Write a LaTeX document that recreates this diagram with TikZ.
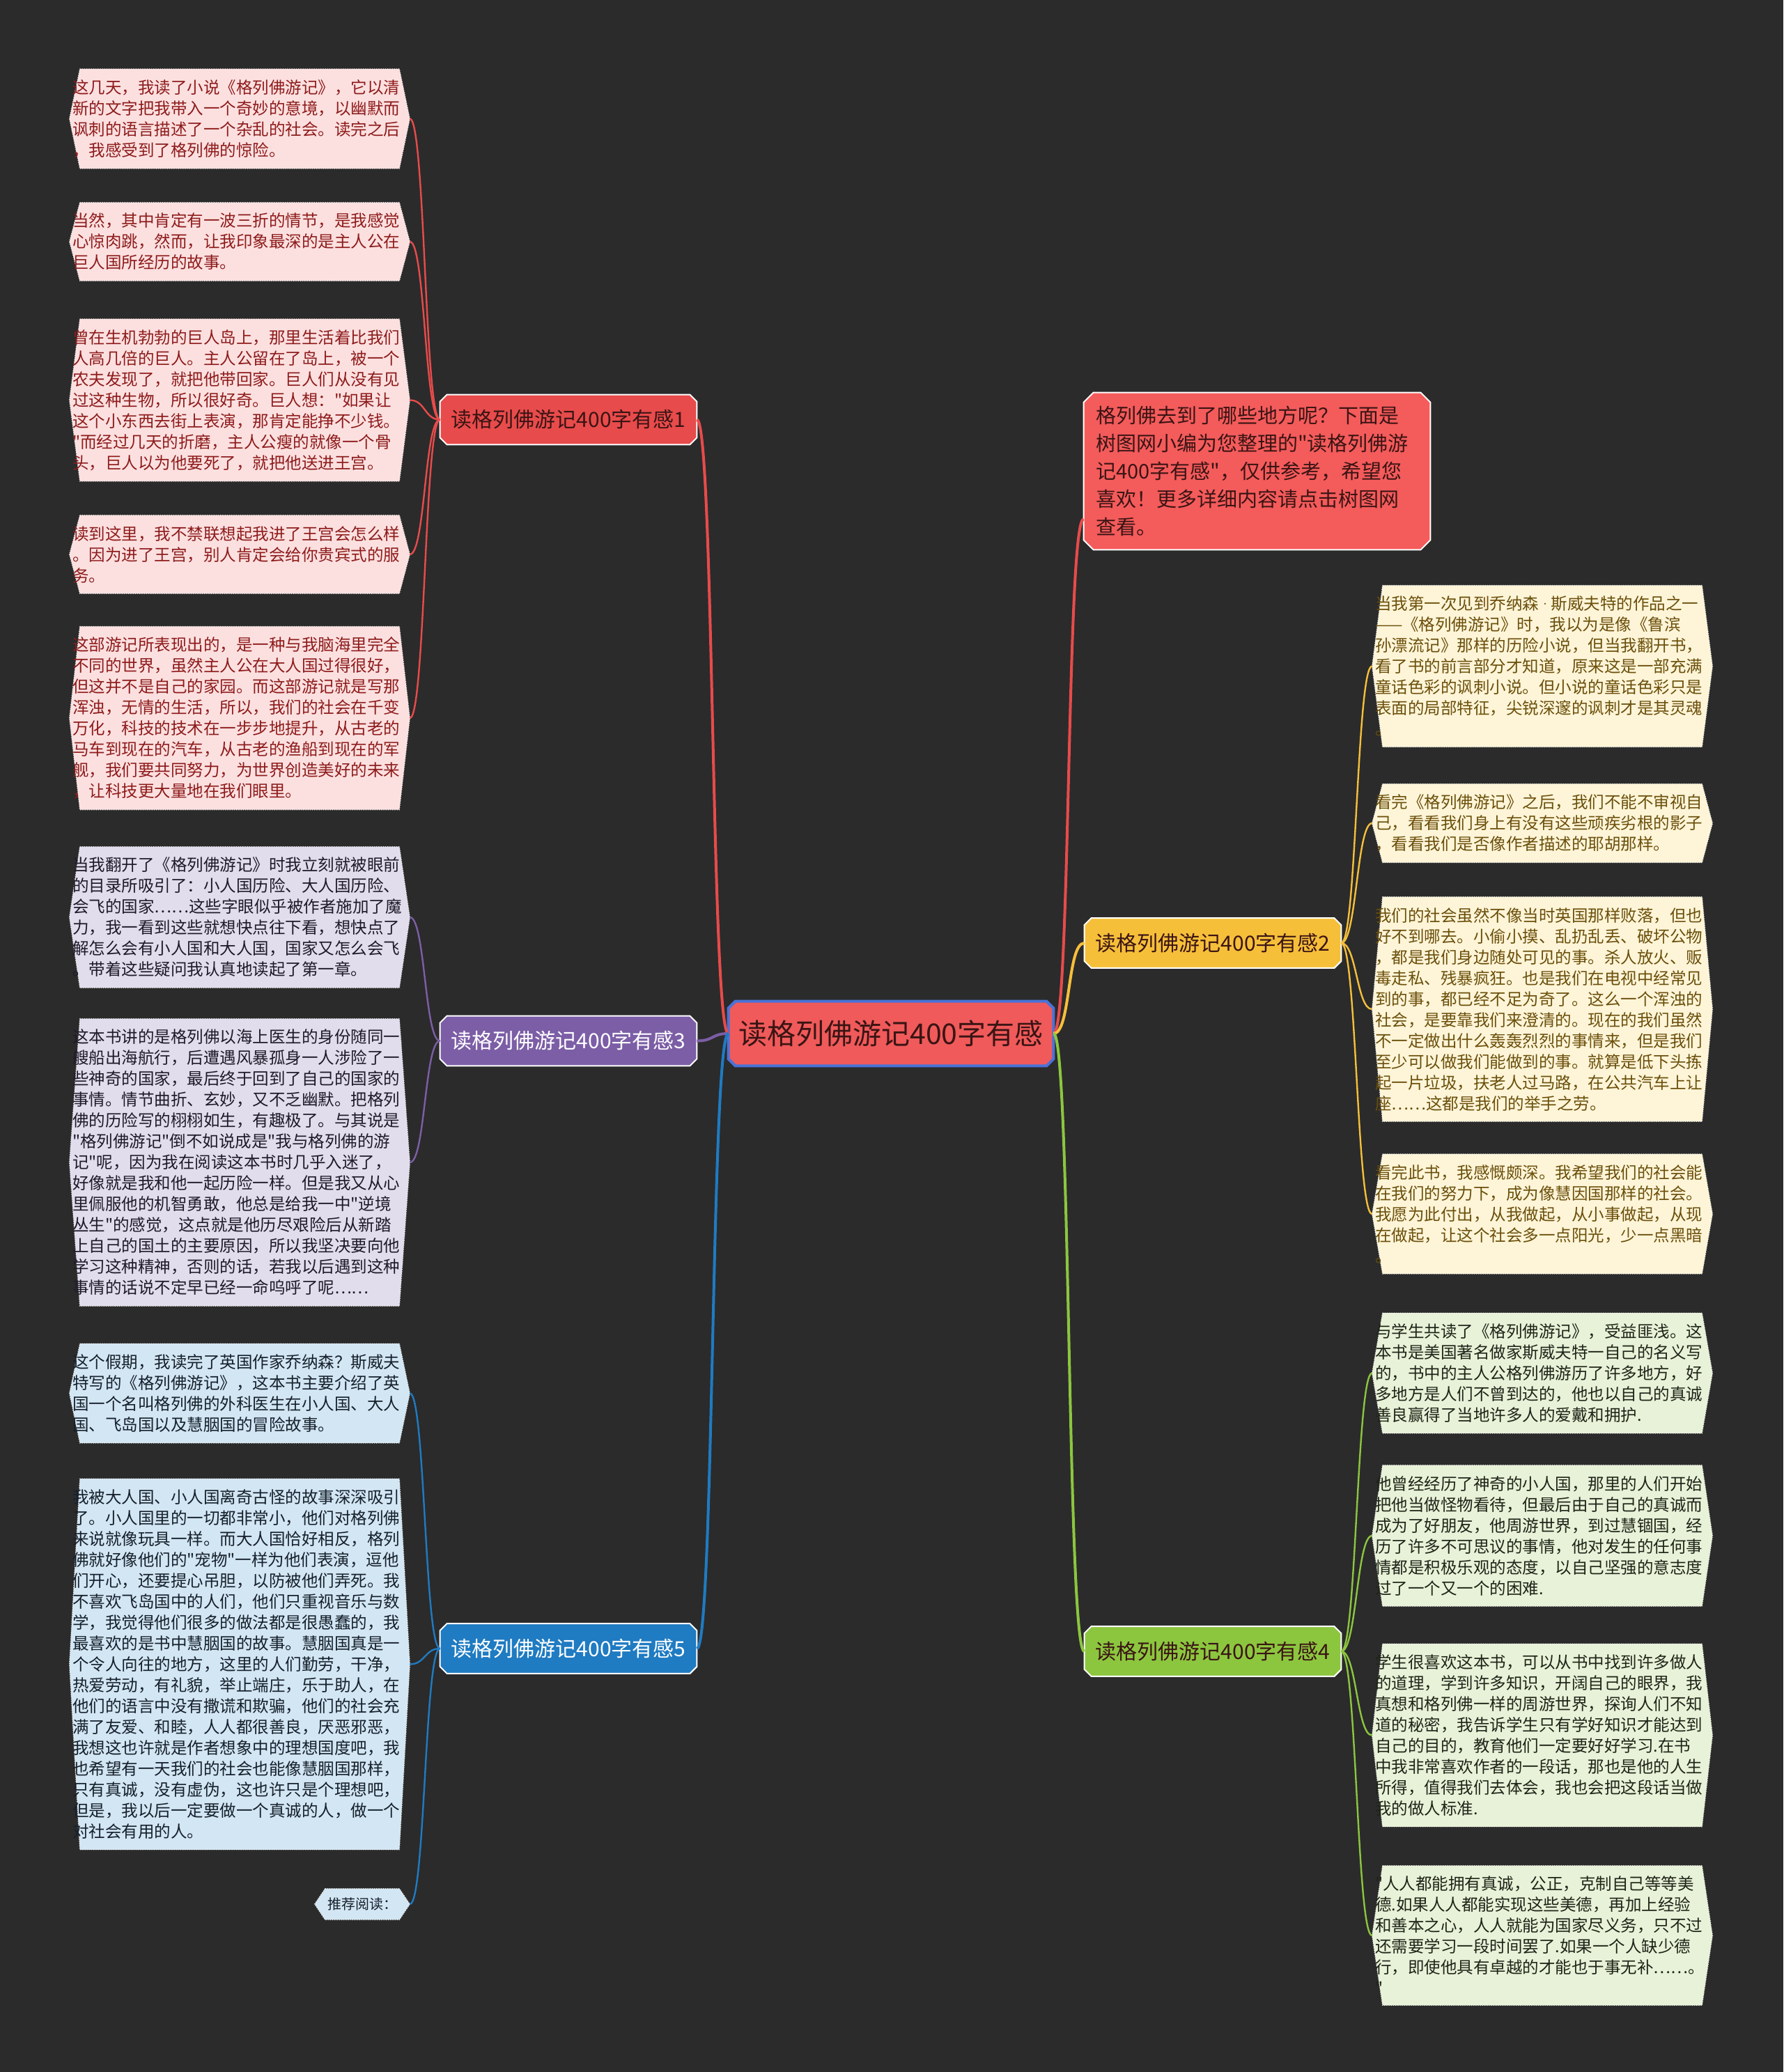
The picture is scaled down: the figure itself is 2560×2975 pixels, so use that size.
\documentclass[tikz,border=0pt]{standalone}
\usepackage{fontspec}
\newfontfamily\cjkfont{Noto Sans CJK SC}
\usetikzlibrary{backgrounds}
\definecolor{bgdark}{HTML}{2B2B2B}
\definecolor{rootred}{HTML}{F05A5A}
\definecolor{rootblue}{HTML}{4A72D8}
\definecolor{boxred}{HTML}{F45B5B}
\definecolor{mainred}{HTML}{E84B4B}
\definecolor{mainpurple}{HTML}{7C5EA6}
\definecolor{mainblue}{HTML}{1F7BC2}
\definecolor{mainyellow}{HTML}{F6BF3A}
\definecolor{maingreen}{HTML}{8CC63F}
\definecolor{darktext}{HTML}{3A1414}
\definecolor{leafred}{HTML}{FCE0E0}
\definecolor{leafpurple}{HTML}{E2DDED}
\definecolor{leafblue}{HTML}{D3E6F3}
\definecolor{leafyellow}{HTML}{FEF5D8}
\definecolor{leafgreen}{HTML}{E8F2D8}
\definecolor{redtext}{HTML}{8E1B1B}
\definecolor{purpletext}{HTML}{1E1A28}
\definecolor{bluetext}{HTML}{15202B}
\definecolor{yellowtext}{HTML}{6B4F0B}
\definecolor{greentext}{HTML}{1E2418}
\definecolor{leafborder}{HTML}{E6E6E6}
\begin{document}
\begin{tikzpicture}
[x=0.5pt, y=-0.5pt,
every node/.style={inner sep=0pt, font=\cjkfont\fontsize{11.75}{15}\selectfont},
leaf/.style={text width=240pt, align=left, inner xsep=2pt, inner ysep=7.5pt},
redleaf/.style={leaf, text=redtext},
purpleleaf/.style={leaf, text=purpletext},
blueleaf/.style={leaf, text=bluetext},
yellowleaf/.style={leaf, text=yellowtext},
greenleaf/.style={leaf, text=greentext},
branch/.style={minimum width=184pt, minimum height=35.5pt, font=\cjkfont\fontsize{15}{18}\selectfont},
leaffill/.style={draw=leafborder, densely dotted, line width=0.6pt},
redfill/.style={leaffill, fill=leafred},
purplefill/.style={leaffill, fill=leafpurple},
bluefill/.style={leaffill, fill=leafblue},
yellowfill/.style={leaffill, fill=leafyellow},
greenfill/.style={leaffill, fill=leafgreen},
rootfill/.style={fill=rootred, draw=rootblue, line width=2pt},
topfill/.style={fill=boxred, draw=white, line width=1pt},
b1fill/.style={fill=mainred, draw=white, line width=1pt},
b3fill/.style={fill=mainpurple, draw=white, line width=1pt},
b5fill/.style={fill=mainblue, draw=white, line width=1pt},
b2fill/.style={fill=mainyellow, draw=white, line width=1pt},
b4fill/.style={fill=maingreen, draw=white, line width=1pt},
rootlink/.style={line width=2pt},
leaflink/.style={line width=1.2pt}]
\useasboundingbox (0,0) rectangle (2560,2975);
\node[minimum width=233pt, minimum height=46pt, font=\cjkfont\fontsize{20.5}{24}\selectfont, text=darktext] (root) at (1279,1484) {读格列佛游记400字有感};
\node[branch, text=darktext] (b1) at (816,602.5) {读格列佛游记400字有感1};
\node[branch, text=white] (b3) at (816,1494.5) {读格列佛游记400字有感3};
\node[branch, text=white] (b5) at (816,2367) {读格列佛游记400字有感5};
\node[branch, text=darktext] (b2) at (1741,1354) {读格列佛游记400字有感2};
\node[branch, text=darktext] (b4) at (1741,2371) {读格列佛游记400字有感4};
\node[text width=231.5pt, align=left, inner xsep=8.5pt, minimum height=112.5pt, font=\cjkfont\fontsize{14.5}{20}\selectfont, text=darktext] (top) at (1804.5,676.5) {格列佛去到了哪些地方呢？下面是\\树图网小编为您整理的"读格列佛游\\记400字有感"，仅供参考，希望您\\喜欢！更多详细内容请点击树图网\\查看。};
\node[redleaf] (l1a) at (344,170.5) {这几天，我读了小说《格列佛游记》，它以清\\新的文字把我带入一个奇妙的意境，以幽默而\\讽刺的语言描述了一个杂乱的社会。读完之后\\，我感受到了格列佛的惊险。};
\node[redleaf] (l1b) at (344,347) {当然，其中肯定有一波三折的情节，是我感觉\\心惊肉跳，然而，让我印象最深的是主人公在\\巨人国所经历的故事。};
\node[redleaf] (l1c) at (344,574.5) {曾在生机勃勃的巨人岛上，那里生活着比我们\\人高几倍的巨人。主人公留在了岛上，被一个\\农夫发现了，就把他带回家。巨人们从没有见\\过这种生物，所以很好奇。巨人想："如果让\\这个小东西去街上表演，那肯定能挣不少钱。\\"而经过几天的折磨，主人公瘦的就像一个骨\\头，巨人以为他要死了，就把他送进王宫。};
\node[redleaf] (l1d) at (344,796) {读到这里，我不禁联想起我进了王宫会怎么样\\。因为进了王宫，别人肯定会给你贵宾式的服\\务。};
\node[redleaf] (l1e) at (344,1031) {这部游记所表现出的，是一种与我脑海里完全\\不同的世界，虽然主人公在大人国过得很好，\\但这并不是自己的家园。而这部游记就是写那\\浑浊，无情的生活，所以，我们的社会在千变\\万化，科技的技术在一步步地提升，从古老的\\马车到现在的汽车，从古老的渔船到现在的军\\舰，我们要共同努力，为世界创造美好的未来\\，让科技更大量地在我们眼里。};
\node[purpleleaf] (l3a) at (344,1317) {当我翻开了《格列佛游记》时我立刻就被眼前\\的目录所吸引了：小人国历险、大人国历险、\\会飞的国家……这些字眼似乎被作者施加了魔\\力，我一看到这些就想快点往下看，想快点了\\解怎么会有小人国和大人国，国家又怎么会飞\\。带着这些疑问我认真地读起了第一章。};
\node[purpleleaf] (l3b) at (344,1669) {这本书讲的是格列佛以海上医生的身份随同一\\艘船出海航行，后遭遇风暴孤身一人涉险了一\\些神奇的国家，最后终于回到了自己的国家的\\事情。情节曲折、玄妙，又不乏幽默。把格列\\佛的历险写的栩栩如生，有趣极了。与其说是\\"格列佛游记"倒不如说成是"我与格列佛的游\\记"呢，因为我在阅读这本书时几乎入迷了，\\好像就是我和他一起历险一样。但是我又从心\\里佩服他的机智勇敢，他总是给我一中"逆境\\丛生"的感觉，这点就是他历尽艰险后从新踏\\上自己的国土的主要原因，所以我坚决要向他\\学习这种精神，否则的话，若我以后遇到这种\\事情的话说不定早已经一命呜呼了呢……};
\node[blueleaf] (l5a) at (344,2000.5) {这个假期，我读完了英国作家乔纳森？斯威夫\\特写的《格列佛游记》，这本书主要介绍了英\\国一个名叫格列佛的外科医生在小人国、大人\\国、飞岛国以及慧胭国的冒险故事。};
\node[blueleaf] (l5b) at (344,2389.5) {我被大人国、小人国离奇古怪的故事深深吸引\\了。小人国里的一切都非常小，他们对格列佛\\来说就像玩具一样。而大人国恰好相反，格列\\佛就好像他们的"宠物"一样为他们表演，逗他\\们开心，还要提心吊胆，以防被他们弄死。我\\不喜欢飞岛国中的人们，他们只重视音乐与数\\学，我觉得他们很多的做法都是很愚蠢的，我\\最喜欢的是书中慧胭国的故事。慧胭国真是一\\个令人向往的地方，这里的人们勤劳，干净，\\热爱劳动，有礼貌，举止端庄，乐于助人，在\\他们的语言中没有撒谎和欺骗，他们的社会充\\满了友爱、和睦，人人都很善良，厌恶邪恶，\\我想这也许就是作者想象中的理想国度吧，我\\也希望有一天我们的社会也能像慧胭国那样，\\只有真诚，没有虚伪，这也许只是个理想吧，\\但是，我以后一定要做一个真诚的人，做一个\\对社会有用的人。};
\node[minimum width=68pt, minimum height=22pt, font=\cjkfont\fontsize{10}{12}\selectfont, text=bluetext] (l5c) at (520,2734) {推荐阅读：};
\node[yellowleaf] (r2a) at (2214,956.5) {当我第一次见到乔纳森{\sffamily ·}斯威夫特的作品之一\\——《格列佛游记》时，我以为是像《鲁滨\\孙漂流记》那样的历险小说，但当我翻开书，\\看了书的前言部分才知道，原来这是一部充满\\童话色彩的讽刺小说。但小说的童话色彩只是\\表面的局部特征，尖锐深邃的讽刺才是其灵魂\\。};
\node[yellowleaf] (r2b) at (2214,1182) {看完《格列佛游记》之后，我们不能不审视自\\己，看看我们身上有没有这些顽疾劣根的影子\\，看看我们是否像作者描述的耶胡那样。};
\node[yellowleaf] (r2c) at (2214,1449) {我们的社会虽然不像当时英国那样败落，但也\\好不到哪去。小偷小摸、乱扔乱丢、破坏公物\\，都是我们身边随处可见的事。杀人放火、贩\\毒走私、残暴疯狂。也是我们在电视中经常见\\到的事，都已经不足为奇了。这么一个浑浊的\\社会，是要靠我们来澄清的。现在的我们虽然\\不一定做出什么轰轰烈烈的事情来，但是我们\\至少可以做我们能做到的事。就算是低下头拣\\起一片垃圾，扶老人过马路，在公共汽车上让\\座……这都是我们的举手之劳。};
\node[yellowleaf] (r2d) at (2214,1743) {看完此书，我感慨颇深。我希望我们的社会能\\在我们的努力下，成为像慧因国那样的社会。\\我愿为此付出，从我做起，从小事做起，从现\\在做起，让这个社会多一点阳光，少一点黑暗\\。};
\node[greenleaf] (r4a) at (2214,1971.5) {与学生共读了《格列佛游记》，受益匪浅。这\\本书是美国著名做家斯威夫特一自己的名义写\\的，书中的主人公格列佛游历了许多地方，好\\多地方是人们不曾到达的，他也以自己的真诚\\善良赢得了当地许多人的爱戴和拥护.};
\node[greenleaf] (r4b) at (2214,2205) {他曾经经历了神奇的小人国，那里的人们开始\\把他当做怪物看待，但最后由于自己的真诚而\\成为了好朋友，他周游世界，到过慧锢国，经\\历了许多不可思议的事情，他对发生的任何事\\情都是积极乐观的态度，以自己坚强的意志度\\过了一个又一个的困难.};
\node[greenleaf] (r4c) at (2214,2491.5) {学生很喜欢这本书，可以从书中找到许多做人\\的道理，学到许多知识，开阔自己的眼界，我\\真想和格列佛一样的周游世界，探询人们不知\\道的秘密，我告诉学生只有学好知识才能达到\\自己的目的，教育他们一定要好好学习.在书\\中我非常喜欢作者的一段话，那也是他的人生\\所得，值得我们去体会，我也会把这段话当做\\我的做人标准.};
\node[greenleaf] (r4d) at (2214,2779) {"人人都能拥有真诚，公正，克制自己等等美\\德.如果人人都能实现这些美德，再加上经验\\和善本之心，人人就能为国家尽义务，只不过\\还需要学习一段时间罢了.如果一个人缺少德\\行，即使他具有卓越的才能也于事无补……。\\"};
\draw[rootlink, mainred] (root.west) .. controls +(-25,0) and +(25,0) .. (b1.east);
\draw[rootlink, mainpurple] (root.west) .. controls +(-25,0) and +(25,0) .. (b3.east);
\draw[rootlink, mainblue] (root.west) .. controls +(-25,0) and +(25,0) .. (b5.east);
\draw[rootlink, mainred] (root.east) .. controls +(25,0) and +(-25,0) .. ([yshift=22pt]top.south west);
\draw[rootlink, mainyellow] (root.east) .. controls +(25,0) and +(-25,0) .. (b2.west);
\draw[rootlink, maingreen] (root.east) .. controls +(25,0) and +(-25,0) .. (b4.west);
\draw[leaflink, mainred] (b1.west) .. controls +(-22,0) and +(22,0) .. (l1a.east);
\draw[leaflink, mainred] (b1.west) .. controls +(-22,0) and +(22,0) .. (l1b.east);
\draw[leaflink, mainred] (b1.west) .. controls +(-22,0) and +(22,0) .. (l1c.east);
\draw[leaflink, mainred] (b1.west) .. controls +(-22,0) and +(22,0) .. (l1d.east);
\draw[leaflink, mainred] (b1.west) .. controls +(-22,0) and +(22,0) .. (l1e.east);
\draw[leaflink, mainpurple] (b3.west) .. controls +(-22,0) and +(22,0) .. (l3a.east);
\draw[leaflink, mainpurple] (b3.west) .. controls +(-22,0) and +(22,0) .. (l3b.east);
\draw[leaflink, mainblue] (b5.west) .. controls +(-22,0) and +(22,0) .. (l5a.east);
\draw[leaflink, mainblue] (b5.west) .. controls +(-22,0) and +(22,0) .. (l5b.east);
\draw[leaflink, mainblue] (b5.west) .. controls +(-22,0) and +(22,0) .. (l5c.east);
\draw[leaflink, mainyellow] (b2.east) .. controls +(22,0) and +(-22,0) .. (r2a.west);
\draw[leaflink, mainyellow] (b2.east) .. controls +(22,0) and +(-22,0) .. (r2b.west);
\draw[leaflink, mainyellow] (b2.east) .. controls +(22,0) and +(-22,0) .. (r2c.west);
\draw[leaflink, mainyellow] (b2.east) .. controls +(22,0) and +(-22,0) .. (r2d.west);
\draw[leaflink, maingreen] (b4.east) .. controls +(22,0) and +(-22,0) .. (r4a.west);
\draw[leaflink, maingreen] (b4.east) .. controls +(22,0) and +(-22,0) .. (r4b.west);
\draw[leaflink, maingreen] (b4.east) .. controls +(22,0) and +(-22,0) .. (r4c.west);
\draw[leaflink, maingreen] (b4.east) .. controls +(22,0) and +(-22,0) .. (r4d.west);
\begin{scope}[on background layer]
\fill[bgdark] (0,0) rectangle (2560,2975);
\foreach \n/\s in {l1a/redfill,l1b/redfill,l1c/redfill,l1d/redfill,l1e/redfill,l3a/purplefill,l3b/purplefill,l5a/bluefill,l5b/bluefill,l5c/bluefill,r2a/yellowfill,r2b/yellowfill,r2c/yellowfill,r2d/yellowfill,r4a/greenfill,r4b/greenfill,r4c/greenfill,r4d/greenfill}
	\path[\s] ([xshift=7.5pt]\n.north west) -- ([xshift=-7.5pt]\n.north east) -- (\n.east) -- ([xshift=-7.5pt]\n.south east) -- ([xshift=7.5pt]\n.south west) -- (\n.west) -- cycle;
\foreach \n/\s/\c in {root/rootfill/5pt,top/topfill/7pt,b1/b1fill/5pt,b3/b3fill/5pt,b5/b5fill/5pt,b2/b2fill/5pt,b4/b4fill/5pt}
	\path[\s] ([xshift=\c]\n.north west) -- ([xshift=-\c]\n.north east) -- ([yshift=-\c]\n.north east) -- ([yshift=\c]\n.south east) -- ([xshift=-\c]\n.south east) -- ([xshift=\c]\n.south west) -- ([yshift=\c]\n.south west) -- ([yshift=-\c]\n.north west) -- cycle;
\end{scope}
\end{tikzpicture}
\end{document}
